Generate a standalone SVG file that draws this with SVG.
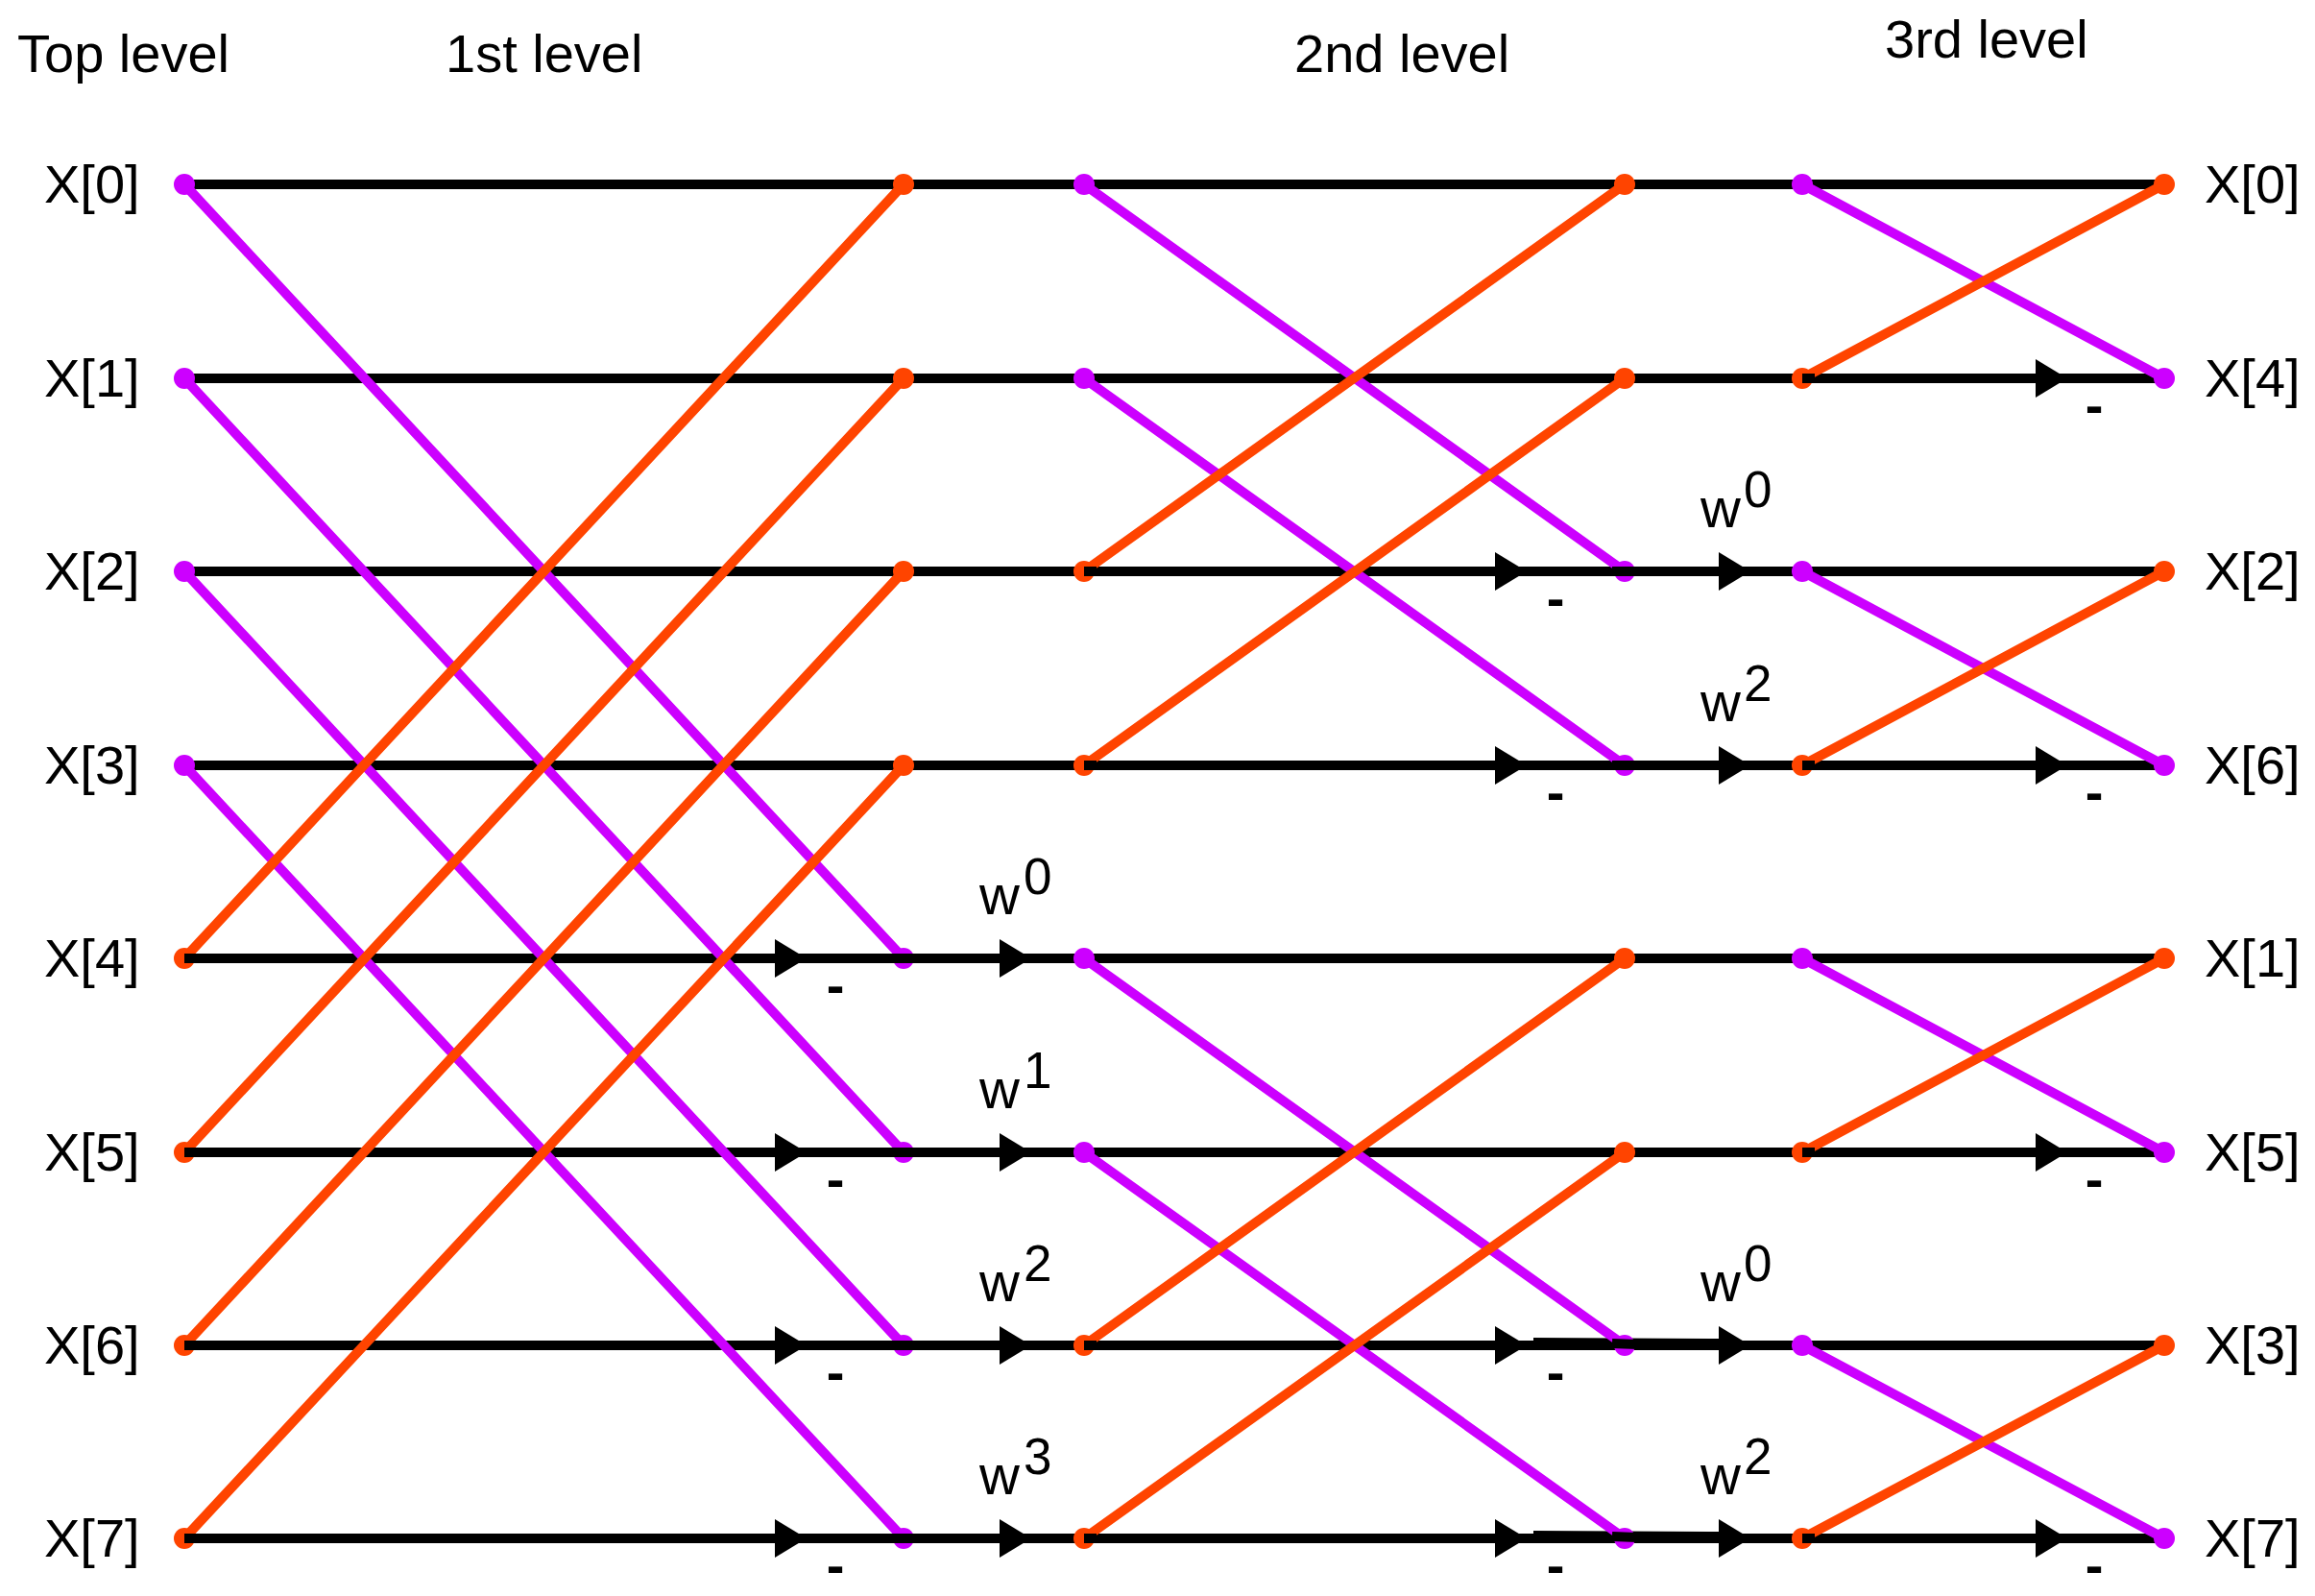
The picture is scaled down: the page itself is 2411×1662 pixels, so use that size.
<svg xmlns="http://www.w3.org/2000/svg" xmlns:xlink="http://www.w3.org/1999/xlink" width="2411" height="1662" viewBox="0 0 2411 1662">
<style>
text{font-family:"Liberation Sans",Arial,sans-serif;fill:#000}
.lbl{font-size:56px}
.hdr{font-size:56px}
.w{font-size:58px}
.sup{font-size:53px}
.minus{font-size:56px;font-weight:bold;text-anchor:middle}
.blk{stroke:#000;stroke-width:10;fill:none}
.pur{stroke:#cc00ff;stroke-width:10;fill:none;stroke-linecap:round}
.org{stroke:#ff4400;stroke-width:10;fill:none;stroke-linecap:round}
.dp{fill:#cc00ff}
.do{fill:#ff4400}
</style>
<defs>
<path id="arr" d="M0,-20 L33,0 L0,20 Z" fill="#000"/>
</defs>
<rect width="2411" height="1662" fill="#fff"/>

<g id="headers">
<text class="hdr" x="18" y="75">Top level</text>
<text class="hdr" x="464" y="75">1st level</text>
<text class="hdr" x="1348" y="75">2nd level</text>
<text class="hdr" x="1963" y="60">3rd level</text>
</g>

<g id="input-labels">
<text class="lbl" x="46" y="211">X[0]</text>
<text class="lbl" x="46" y="413">X[1]</text>
<text class="lbl" x="46" y="614">X[2]</text>
<text class="lbl" x="46" y="816">X[3]</text>
<text class="lbl" x="46" y="1017">X[4]</text>
<text class="lbl" x="46" y="1219">X[5]</text>
<text class="lbl" x="46" y="1420">X[6]</text>
<text class="lbl" x="46" y="1621">X[7]</text>
</g>

<g id="output-labels">
<text class="lbl" x="2296" y="211">X[0]</text>
<text class="lbl" x="2296" y="413">X[4]</text>
<text class="lbl" x="2296" y="614">X[2]</text>
<text class="lbl" x="2296" y="816">X[6]</text>
<text class="lbl" x="2296" y="1017">X[1]</text>
<text class="lbl" x="2296" y="1219">X[5]</text>
<text class="lbl" x="2296" y="1420">X[3]</text>
<text class="lbl" x="2296" y="1621">X[7]</text>
</g>

<g id="connectors">
<g id="rows">
<line class="blk" x1="192" y1="192" x2="2254" y2="192"/>
<line class="blk" x1="192" y1="394" x2="2254" y2="394"/>
<line class="blk" x1="192" y1="595" x2="2254" y2="595"/>
<line class="blk" x1="192" y1="797" x2="2254" y2="797"/>
<line class="blk" x1="192" y1="998" x2="2254" y2="998"/>
<line class="blk" x1="192" y1="1200" x2="2254" y2="1200"/>
<line class="blk" x1="192" y1="1401" x2="2254" y2="1401"/>
<line class="blk" x1="192" y1="1602" x2="2254" y2="1602"/>
<line class="blk" x1="1597" y1="1398" x2="1790" y2="1399"/>
<line class="blk" x1="1597" y1="1599" x2="1790" y2="1600"/>
</g>
<g id="arrows">
<use xlink:href="#arr" x="807" y="998"/>
<use xlink:href="#arr" x="807" y="1200"/>
<use xlink:href="#arr" x="807" y="1401"/>
<use xlink:href="#arr" x="807" y="1602"/>
<use xlink:href="#arr" x="1041" y="998"/>
<use xlink:href="#arr" x="1041" y="1200"/>
<use xlink:href="#arr" x="1041" y="1401"/>
<use xlink:href="#arr" x="1041" y="1602"/>
<use xlink:href="#arr" x="1557" y="595"/>
<use xlink:href="#arr" x="1557" y="797"/>
<use xlink:href="#arr" x="1557" y="1401"/>
<use xlink:href="#arr" x="1557" y="1602"/>
<use xlink:href="#arr" x="1790" y="595"/>
<use xlink:href="#arr" x="1790" y="797"/>
<use xlink:href="#arr" x="1790" y="1401"/>
<use xlink:href="#arr" x="1790" y="1602"/>
<use xlink:href="#arr" x="2120" y="394"/>
<use xlink:href="#arr" x="2120" y="797"/>
<use xlink:href="#arr" x="2120" y="1200"/>
<use xlink:href="#arr" x="2120" y="1602"/>
</g>
<g id="stage1-lines">
<line class="pur" x1="192" y1="192" x2="941" y2="998"/>
<line class="pur" x1="192" y1="394" x2="941" y2="1200"/>
<line class="pur" x1="192" y1="595" x2="941" y2="1401"/>
<line class="pur" x1="192" y1="797" x2="941" y2="1602"/>
<line class="org" x1="192" y1="998" x2="941" y2="192"/>
<line class="org" x1="192" y1="1200" x2="941" y2="394"/>
<line class="org" x1="192" y1="1401" x2="941" y2="595"/>
<line class="org" x1="192" y1="1602" x2="941" y2="797"/>
</g>
<g id="stage2-lines">
<line class="pur" x1="1129" y1="192" x2="1692" y2="595"/>
<line class="pur" x1="1129" y1="394" x2="1692" y2="797"/>
<line class="org" x1="1129" y1="595" x2="1692" y2="192"/>
<line class="org" x1="1129" y1="797" x2="1692" y2="394"/>
<line class="pur" x1="1129" y1="998" x2="1692" y2="1401"/>
<line class="pur" x1="1129" y1="1200" x2="1692" y2="1602"/>
<line class="org" x1="1129" y1="1401" x2="1692" y2="998"/>
<line class="org" x1="1129" y1="1602" x2="1692" y2="1200"/>
</g>
<g id="stage3-lines">
<line class="pur" x1="1877" y1="192" x2="2254" y2="394"/>
<line class="org" x1="1877" y1="394" x2="2254" y2="192"/>
<line class="pur" x1="1877" y1="595" x2="2254" y2="797"/>
<line class="org" x1="1877" y1="797" x2="2254" y2="595"/>
<line class="pur" x1="1877" y1="998" x2="2254" y2="1200"/>
<line class="org" x1="1877" y1="1200" x2="2254" y2="998"/>
<line class="pur" x1="1877" y1="1401" x2="2254" y2="1602"/>
<line class="org" x1="1877" y1="1602" x2="2254" y2="1401"/>
</g>
</g>

<g id="nodes">
<g id="col0">
<circle id="n0-0" class="dp" cx="192" cy="192" r="11"/>
<circle id="n0-1" class="dp" cx="192" cy="394" r="11"/>
<circle id="n0-2" class="dp" cx="192" cy="595" r="11"/>
<circle id="n0-3" class="dp" cx="192" cy="797" r="11"/>
<circle id="n0-4" class="do" cx="192" cy="998" r="11"/>
<circle id="n0-5" class="do" cx="192" cy="1200" r="11"/>
<circle id="n0-6" class="do" cx="192" cy="1401" r="11"/>
<circle id="n0-7" class="do" cx="192" cy="1602" r="11"/>
</g>
<g id="col1">
<circle id="n1-0" class="do" cx="941" cy="192" r="11"/>
<circle id="n1-1" class="do" cx="941" cy="394" r="11"/>
<circle id="n1-2" class="do" cx="941" cy="595" r="11"/>
<circle id="n1-3" class="do" cx="941" cy="797" r="11"/>
<circle id="n1-4" class="dp" cx="941" cy="998" r="11"/>
<circle id="n1-5" class="dp" cx="941" cy="1200" r="11"/>
<circle id="n1-6" class="dp" cx="941" cy="1401" r="11"/>
<circle id="n1-7" class="dp" cx="941" cy="1602" r="11"/>
</g>
<g id="col2">
<circle id="n2-0" class="dp" cx="1129" cy="192" r="11"/>
<circle id="n2-1" class="dp" cx="1129" cy="394" r="11"/>
<circle id="n2-2" class="do" cx="1129" cy="595" r="11"/>
<circle id="n2-3" class="do" cx="1129" cy="797" r="11"/>
<circle id="n2-4" class="dp" cx="1129" cy="998" r="11"/>
<circle id="n2-5" class="dp" cx="1129" cy="1200" r="11"/>
<circle id="n2-6" class="do" cx="1129" cy="1401" r="11"/>
<circle id="n2-7" class="do" cx="1129" cy="1602" r="11"/>
</g>
<g id="col3">
<circle id="n3-0" class="do" cx="1692" cy="192" r="11"/>
<circle id="n3-1" class="do" cx="1692" cy="394" r="11"/>
<circle id="n3-2" class="dp" cx="1692" cy="595" r="11"/>
<circle id="n3-3" class="dp" cx="1692" cy="797" r="11"/>
<circle id="n3-4" class="do" cx="1692" cy="998" r="11"/>
<circle id="n3-5" class="do" cx="1692" cy="1200" r="11"/>
<circle id="n3-6" class="dp" cx="1692" cy="1401" r="11"/>
<circle id="n3-7" class="dp" cx="1692" cy="1602" r="11"/>
</g>
<g id="col4">
<circle id="n4-0" class="dp" cx="1877" cy="192" r="11"/>
<circle id="n4-1" class="do" cx="1877" cy="394" r="11"/>
<circle id="n4-2" class="dp" cx="1877" cy="595" r="11"/>
<circle id="n4-3" class="do" cx="1877" cy="797" r="11"/>
<circle id="n4-4" class="dp" cx="1877" cy="998" r="11"/>
<circle id="n4-5" class="do" cx="1877" cy="1200" r="11"/>
<circle id="n4-6" class="dp" cx="1877" cy="1401" r="11"/>
<circle id="n4-7" class="do" cx="1877" cy="1602" r="11"/>
</g>
<g id="col5">
<circle id="n5-0" class="do" cx="2254" cy="192" r="11"/>
<circle id="n5-1" class="dp" cx="2254" cy="394" r="11"/>
<circle id="n5-2" class="do" cx="2254" cy="595" r="11"/>
<circle id="n5-3" class="dp" cx="2254" cy="797" r="11"/>
<circle id="n5-4" class="do" cx="2254" cy="998" r="11"/>
<circle id="n5-5" class="dp" cx="2254" cy="1200" r="11"/>
<circle id="n5-6" class="do" cx="2254" cy="1401" r="11"/>
<circle id="n5-7" class="dp" cx="2254" cy="1602" r="11"/>
</g>
</g>

<g id="overlaps">
<line class="blk" x1="192" y1="998" x2="205" y2="998"/>
<line class="blk" x1="192" y1="1200" x2="205" y2="1200"/>
<line class="blk" x1="192" y1="1401" x2="205" y2="1401"/>
<line class="blk" x1="192" y1="1602" x2="205" y2="1602"/>
<line class="blk" x1="928" y1="998" x2="954" y2="998"/>
<line class="blk" x1="928" y1="1200" x2="954" y2="1200"/>
<line class="blk" x1="928" y1="1401" x2="954" y2="1401"/>
<line class="blk" x1="928" y1="1602" x2="954" y2="1602"/>
<line class="blk" x1="1129" y1="595" x2="1142" y2="595"/>
<line class="blk" x1="1129" y1="797" x2="1142" y2="797"/>
<line class="blk" x1="1129" y1="1401" x2="1142" y2="1401"/>
<line class="blk" x1="1129" y1="1602" x2="1142" y2="1602"/>
<line class="blk" x1="1679" y1="595" x2="1705" y2="595"/>
<line class="blk" x1="1679" y1="797" x2="1705" y2="797"/>
<line class="blk" x1="1679" y1="1399" x2="1705" y2="1400"/>
<line class="blk" x1="1679" y1="1600" x2="1705" y2="1601"/>
<line class="blk" x1="1877" y1="394" x2="1890" y2="394"/>
<line class="blk" x1="1877" y1="797" x2="1890" y2="797"/>
<line class="blk" x1="1877" y1="1200" x2="1890" y2="1200"/>
<line class="blk" x1="1877" y1="1602" x2="1890" y2="1602"/>
</g>

<g id="minus-signs">
<text class="minus" x="870" y="1045">-</text>
<text class="minus" x="870" y="1247">-</text>
<text class="minus" x="870" y="1448">-</text>
<text class="minus" x="870" y="1649">-</text>
<text class="minus" x="1620" y="642">-</text>
<text class="minus" x="1620" y="844">-</text>
<text class="minus" x="1620" y="1448">-</text>
<text class="minus" x="1620" y="1649">-</text>
<text class="minus" x="2181" y="441">-</text>
<text class="minus" x="2181" y="844">-</text>
<text class="minus" x="2181" y="1247">-</text>
<text class="minus" x="2181" y="1649">-</text>
</g>

<g id="twiddles">
<text class="w" x="1020" y="952">w</text><text class="sup" x="1066" y="931">0</text>
<text class="w" x="1020" y="1154">w</text><text class="sup" x="1066" y="1133">1</text>
<text class="w" x="1020" y="1355">w</text><text class="sup" x="1066" y="1334">2</text>
<text class="w" x="1020" y="1556">w</text><text class="sup" x="1066" y="1535">3</text>
<text class="w" x="1771" y="549">w</text><text class="sup" x="1816" y="528">0</text>
<text class="w" x="1771" y="751">w</text><text class="sup" x="1816" y="730">2</text>
<text class="w" x="1771" y="1355">w</text><text class="sup" x="1816" y="1334">0</text>
<text class="w" x="1771" y="1556">w</text><text class="sup" x="1816" y="1535">2</text>
</g>
</svg>
